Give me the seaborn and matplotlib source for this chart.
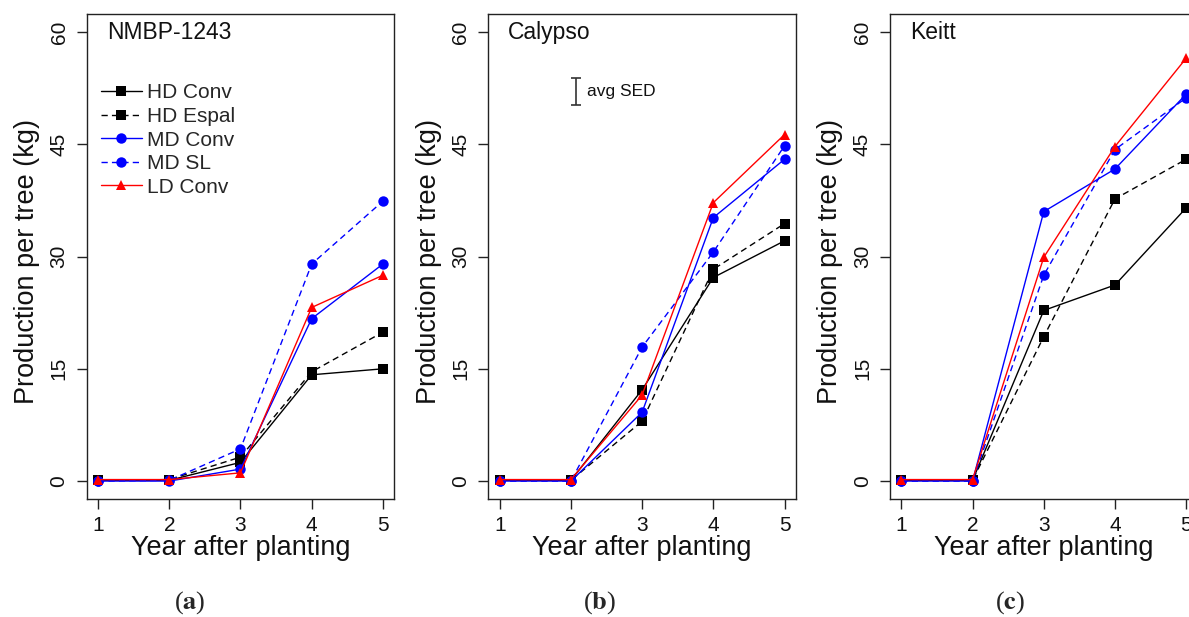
import matplotlib
matplotlib.use('Agg')
import matplotlib.pyplot as plt
import pandas as pd
import seaborn as sns

# data (kg per tree)
years = [1, 2, 3, 4, 5]
treatments = ['HD Conv', 'HD Espal', 'MD Conv', 'MD SL', 'LD Conv']
cultivars = ['NMBP-1243', 'Calypso', 'Keitt']
panel_tags = ['a', 'b', 'c']

nmbp_hd_conv = [0.1, 0.1, 2.5, 14.2, 15.0]
nmbp_hd_espal = [0.1, 0.2, 3.2, 14.6, 19.9]
nmbp_md_conv = [0.0, 0.0, 1.6, 21.7, 29.0]
nmbp_md_sl = [0.0, 0.1, 4.3, 29.0, 37.4]
nmbp_ld_conv = [0.2, 0.2, 1.1, 23.2, 27.5]

calypso_hd_conv = [0.1, 0.1, 12.2, 27.2, 32.1]
calypso_hd_espal = [0.1, 0.1, 8.0, 28.3, 34.4]
calypso_md_conv = [0.0, 0.0, 9.2, 35.2, 43.0]
calypso_md_sl = [0.0, 0.0, 17.9, 30.6, 44.8]
calypso_ld_conv = [0.2, 0.2, 11.5, 37.2, 46.3]

keitt_hd_conv = [0.1, 0.1, 22.8, 26.2, 36.5]
keitt_hd_espal = [0.1, 0.1, 19.3, 37.7, 43.0]
keitt_md_conv = [0.0, 0.0, 36.0, 41.7, 51.7]
keitt_md_sl = [0.0, 0.0, 27.5, 44.3, 51.2]
keitt_ld_conv = [0.2, 0.2, 29.9, 44.7, 56.5]

# average SED bar shown in panel (b)
avg_sed = 3.6

series = {
    'NMBP-1243': [nmbp_hd_conv, nmbp_hd_espal, nmbp_md_conv, nmbp_md_sl, nmbp_ld_conv],
    'Calypso': [calypso_hd_conv, calypso_hd_espal, calypso_md_conv, calypso_md_sl, calypso_ld_conv],
    'Keitt': [keitt_hd_conv, keitt_hd_espal, keitt_md_conv, keitt_md_sl, keitt_ld_conv],
}

rows = []
for cv in cultivars:
    for trt, vals in zip(treatments, series[cv]):
        for yr, v in zip(years, vals):
            rows.append({'cultivar': cv, 'year': yr, 'trt': trt, 'prod': v})
df = pd.DataFrame(rows)

palette = {'HD Conv': 'black', 'HD Espal': 'black', 'MD Conv': '#0000ff',
           'MD SL': '#0000ff', 'LD Conv': '#ff0000'}
markers = {'HD Conv': 's', 'HD Espal': 's', 'MD Conv': 'o', 'MD SL': 'o', 'LD Conv': '^'}
dashes = {'HD Conv': '', 'HD Espal': (4.5, 3), 'MD Conv': '', 'MD SL': (4.5, 3), 'LD Conv': ''}

sns.set_theme(style='ticks')
plt.rcParams['font.family'] = ['Liberation Sans', 'DejaVu Sans']
plt.rcParams['mathtext.fontset'] = 'stix'

fig = plt.figure(figsize=(11.89, 6.17), dpi=100)
lefts = [0.0729, 0.4107, 0.7485]

for i, cv in enumerate(cultivars):
    ax = fig.add_axes([lefts[i], 0.1912, 0.2587, 0.786])
    sub = df[df['cultivar'] == cv]
    sns.lineplot(data=sub, x='year', y='prod', hue='trt', style='trt',
                 hue_order=treatments, style_order=treatments,
                 palette=palette, markers=markers, dashes=dashes,
                 markersize=7.5, markeredgewidth=0, linewidth=1.0,
                 legend=(i == 0), ax=ax)
    ax.set_xlim(0.84, 5.16)
    ax.set_ylim(-2.4, 62.4)
    ax.set_xticks(years)
    ax.set_yticks([0, 15, 30, 45, 60])
    for s in ax.spines.values():
        s.set_visible(True)
        s.set_color('#222222')
        s.set_linewidth(1.0)
    ax.tick_params(axis='both', length=7, width=1.0, color='#222222',
                   labelsize=15, labelcolor='#111111')
    ax.tick_params(axis='x', pad=5)
    ax.tick_params(axis='y', pad=6)
    for lab in ax.get_yticklabels():
        lab.set_rotation(90)
        lab.set_va('center')
    ax.set_xlabel('Year after planting', fontsize=19.5, color='#111111')
    ax.set_ylabel('Production per tree (kg)', fontsize=19.5, color='#111111')
    ax.xaxis.set_label_coords(0.5, -0.075)
    ax.yaxis.set_label_coords(-0.152, 0.49)
    ax.text(0.065, 0.963, cv, transform=ax.transAxes, fontsize=16.5,
            ha='left', va='center', color='#111111')
    ax.grid(False)

    if i == 0:
        handles, labels = ax.get_legend_handles_labels()
        ax.legend(handles, labels, loc='upper left', bbox_to_anchor=(0.045, 0.857),
                  frameon=False, fontsize=15, labelspacing=0.22, handlelength=2.0,
                  handletextpad=0.25, borderpad=0, borderaxespad=0)
    if i == 1:
        ax.errorbar([2.07], [52], yerr=[avg_sed / 2], color='#333333',
                    capsize=3.5, elinewidth=1.2, capthick=1.2)
        ax.text(2.23, 52, 'avg SED', fontsize=12.5, ha='left', va='center',
                color='#111111')

    fig.text((190 + 410 * i) / 1189, 1 - 603 / 617, r'($\mathbf{' + panel_tags[i] + r'}$)',
             fontsize=19, ha='center', va='center', family='Liberation Serif')

fig.savefig('out.png', dpi=100, facecolor='white')
